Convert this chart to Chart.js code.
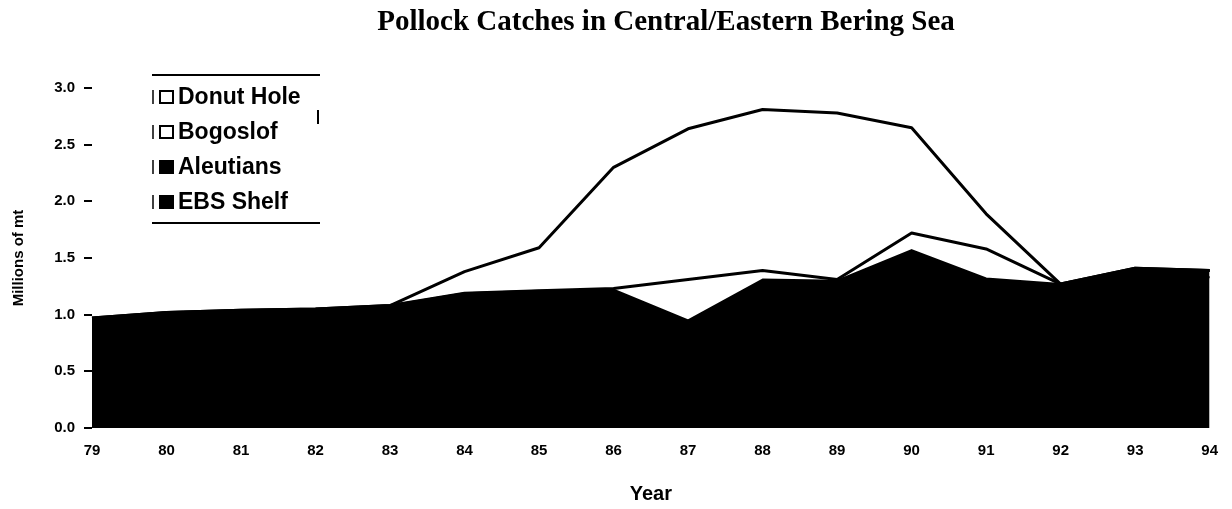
<!DOCTYPE html>
<html>
<head>
<meta charset="utf-8">
<title>Pollock Catches in Central/Eastern Bering Sea</title>
<script src="https://cdn.jsdelivr.net/npm/chart.js@4.4.1/dist/chart.umd.min.js"></script>
<style>
  html, body { margin: 0; padding: 0; background: #fff; }
  canvas { display: block; }
</style>
</head>
<body>
<canvas id="catchChart" width="1232" height="509"></canvas>
<script>
// Pollock catches, millions of mt (stacked)
const years = ['79', '80', '81', '82', '83', '84', '85', '86', '87', '88', '89', '90', '91', '92', '93', '94'];
const ebsShelf  = [0.96, 0.96, 0.98, 0.99, 1.02, 1.11, 1.15, 1.17, 0.92, 1.27, 1.15, 1.50, 1.24, 1.22, 1.35, 1.33];
const aleutians = [0.01, 0.06, 0.06, 0.06, 0.06, 0.08, 0.06, 0.05, 0.03, 0.04, 0.15, 0.07, 0.08, 0.05, 0.06, 0.06];
const bogoslof  = [0, 0, 0, 0, 0, 0, 0, 0.01, 0.36, 0.08, 0.01, 0.15, 0.26, 0, 0, 0];
const donutHole = [0, 0, 0, 0, 0, 0.19, 0.38, 1.07, 1.33, 1.42, 1.47, 0.93, 0.31, 0, 0, 0];
const yTicks = [0, 0.5, 1, 1.5, 2, 2.5, 3];

const titleText = 'Pollock Catches in Central/Eastern Bering Sea';

Chart.defaults.font.family = '"Liberation Sans", Arial, sans-serif';
Chart.defaults.color = '#000';

// title and boxed legend, drawn where the original has them
const overlay = {
  id: 'overlay',
  afterDraw(chart) {
    const ctx = chart.ctx;
    ctx.save();
    ctx.fillStyle = '#000';
    ctx.font = 'bold 29px "Liberation Serif", "Times New Roman", serif';
    ctx.textAlign = 'center';
    ctx.textBaseline = 'alphabetic';
    ctx.fillText(titleText, 666, 30);

    // legend rules
    ctx.strokeStyle = '#000';
    ctx.lineWidth = 2;
    ctx.beginPath();
    ctx.moveTo(152, 75); ctx.lineTo(320, 75);
    ctx.moveTo(152, 223); ctx.lineTo(320, 223);
    ctx.moveTo(318, 110); ctx.lineTo(318, 124);
    ctx.stroke();

    const items = chart.data.datasets.slice().reverse();
    ctx.font = 'bold 23px "Liberation Sans", Arial, sans-serif';
    ctx.textAlign = 'left';
    ctx.textBaseline = 'middle';
    items.forEach((ds, i) => {
      const cy = 97 + i * 35;
      ctx.lineWidth = 1.5;
      ctx.beginPath();
      ctx.moveTo(153, cy - 7); ctx.lineTo(153, cy + 7);
      ctx.stroke();
      ctx.fillStyle = ds.backgroundColor;
      ctx.fillRect(160, cy - 6, 13, 12);
      ctx.lineWidth = 2;
      ctx.strokeRect(160, cy - 6, 13, 12);
      ctx.fillStyle = '#000';
      ctx.fillText(ds.label, 178, cy + 1);
    });
    ctx.restore();
  }
};

const data = {
  labels: years,
  datasets: [
    { label: 'EBS Shelf', data: ebsShelf, backgroundColor: '#000', borderColor: '#000', borderWidth: 2, fill: 'origin' },
    { label: 'Aleutians', data: aleutians, backgroundColor: '#000', borderColor: '#000', borderWidth: 2, fill: '-1' },
    { label: 'Bogoslof', data: bogoslof, backgroundColor: '#fff', borderColor: '#000', borderWidth: 3, fill: '-1' },
    { label: 'Donut Hole', data: donutHole, backgroundColor: '#fff', borderColor: '#000', borderWidth: 3, fill: '-1' }
  ]
};

const options = {
  responsive: false,
  animation: false,
  layout: { padding: { top: 88, right: 19, bottom: 0, left: 0 } },
  elements: {
    point: { radius: 0 },
    line: { tension: 0, borderJoinStyle: 'round' }
  },
  plugins: {
    legend: { display: false },
    tooltip: { enabled: false },
    title: { display: false }
  },
  scales: {
    x: {
      offset: false,
      grid: { display: false, drawTicks: false },
      border: { display: false },
      ticks: { font: { size: 15, weight: 'bold' }, padding: 14, maxRotation: 0, autoSkip: false },
      title: { display: true, text: 'Year', font: { size: 20, weight: 'bold' }, padding: { top: 0, bottom: 3 } },
      afterFit: (s) => { s.height = 81; }
    },
    y: {
      stacked: true,
      min: 0,
      max: 3,
      afterBuildTicks: (s) => { s.ticks = yTicks.map(v => ({ value: v })); },
      grid: { drawOnChartArea: false, drawTicks: true, tickLength: 8, color: '#000', lineWidth: 2 },
      border: { display: false },
      ticks: { font: { size: 15, weight: 'bold' }, padding: 9, callback: (v) => v.toFixed(1) },
      title: { display: true, text: 'Millions of mt', font: { size: 15, weight: 'bold' }, padding: { top: 10, bottom: 0 } },
      afterFit: (s) => { s.width = 92; }
    }
  }
};

let catchChart = new Chart(document.getElementById('catchChart'), {
  type: 'line',
  data,
  options,
  plugins: [overlay]
});
</script>
</body>
</html>
